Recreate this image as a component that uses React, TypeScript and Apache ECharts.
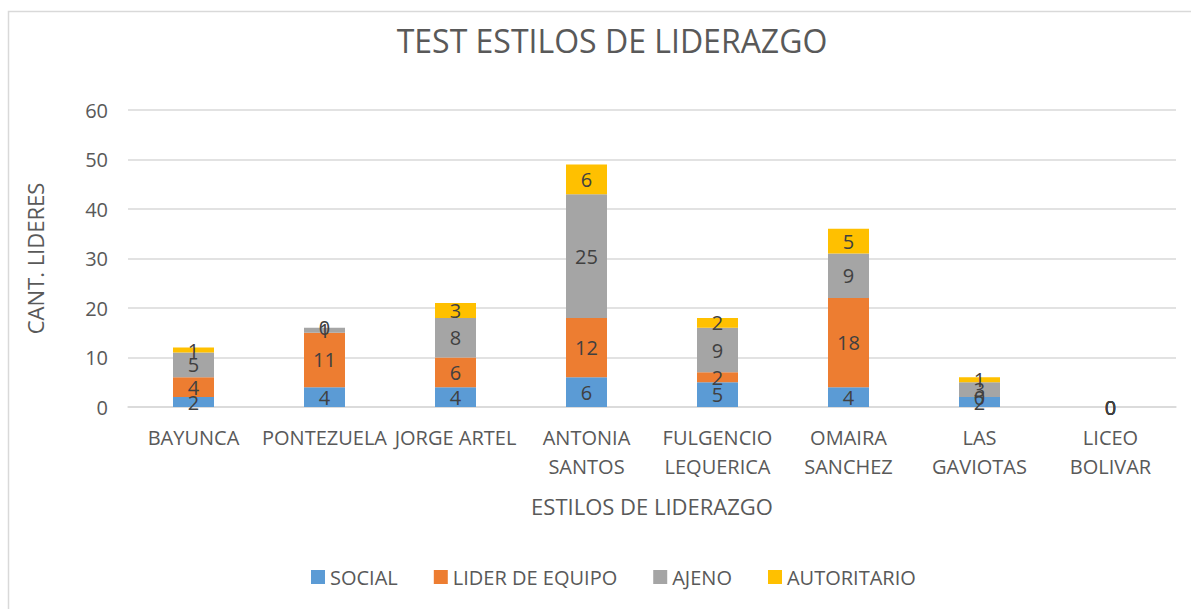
import React, { useEffect, useRef } from "react";
import * as echarts from "echarts";

const categories = ["BAYUNCA", "PONTEZUELA", "JORGE ARTEL", "ANTONIA\nSANTOS", "FULGENCIO\nLEQUERICA", "OMAIRA\nSANCHEZ", "LAS\nGAVIOTAS", "LICEO\nBOLIVAR"];
const social = [2, 4, 4, 6, 5, 4, 2, 0];
const liderEquipo = [4, 11, 6, 12, 2, 18, 0, 0];
const ajeno = [5, 1, 8, 25, 9, 9, 3, 0];
const autoritario = [1, 0, 3, 6, 2, 5, 1, 0];

const FONT = "'Open Sans', 'Noto Sans', sans-serif";
const TXT = "#595959";

export default function App() {
  const ref = useRef<HTMLDivElement>(null);
  useEffect(() => {
    document.body.style.margin = "0";
    const chart = echarts.init(ref.current!, null, { renderer: "svg" });
    const mk = (name: string, data: number[], color: string) => ({
      name,
      type: "bar",
      stack: "total",
      data,
      barWidth: 41,
      itemStyle: { color },
      label: { show: true, position: "inside", color: "#404040", fontSize: 20, fontFamily: FONT },
    });
    chart.setOption({
      animation: false,
      textStyle: { fontFamily: FONT },
      title: {
        text: "TEST ESTILOS DE LIDERAZGO",
        left: 607,
        textAlign: "center",
        top: 19,
        textStyle: { fontSize: 32, fontWeight: "normal", color: TXT, fontFamily: FONT },
      },
      graphic: [
        {
          type: "rect",
          shape: { x: 8.5, y: 11.5, width: 1200, height: 620 },
          style: { fill: "none", stroke: "#d9d9d9", lineWidth: 1.5 },
          silent: true,
        },
      ],
      legend: {
        bottom: 17,
        left: 306,
        itemWidth: 14,
        itemHeight: 14,
        itemGap: 36,
        itemTextGap: 4,
        icon: "rect",
        textStyle: { fontSize: 20, color: TXT, fontFamily: FONT },
        data: ["SOCIAL", "LIDER DE EQUIPO", "AJENO", "AUTORITARIO"],
      },
      grid: { left: 128, right: 15, top: 110, bottom: 202 },
      xAxis: {
        type: "category",
        data: categories,
        name: "ESTILOS DE LIDERAZGO",
        nameLocation: "middle",
        nameGap: 88,
        nameTextStyle: { fontSize: 22, color: TXT },
        axisLine: { lineStyle: { color: "#d9d9d9", width: 1.5 } },
        axisTick: { show: false },
        axisLabel: { color: TXT, fontSize: 20, interval: 0, margin: 16, lineHeight: 29 },
      },
      yAxis: {
        type: "value",
        min: 0,
        max: 60,
        interval: 10,
        name: "CANT. LIDERES",
        nameLocation: "middle",
        nameGap: 82,
        nameTextStyle: { fontSize: 22, color: TXT },
        axisLine: { show: false },
        axisTick: { show: false },
        splitLine: { lineStyle: { color: "#d9d9d9", width: 1.5 } },
        axisLabel: { color: TXT, fontSize: 20, margin: 20 },
      },
      series: [
        mk("SOCIAL", social, "#5B9BD5"),
        mk("LIDER DE EQUIPO", liderEquipo, "#ED7D31"),
        mk("AJENO", ajeno, "#A5A5A5"),
        mk("AUTORITARIO", autoritario, "#FFC000"),
      ],
    });
    return () => chart.dispose();
  }, []);
  return <div ref={ref} style={{ width: 1191, height: 609 }} />;
}
